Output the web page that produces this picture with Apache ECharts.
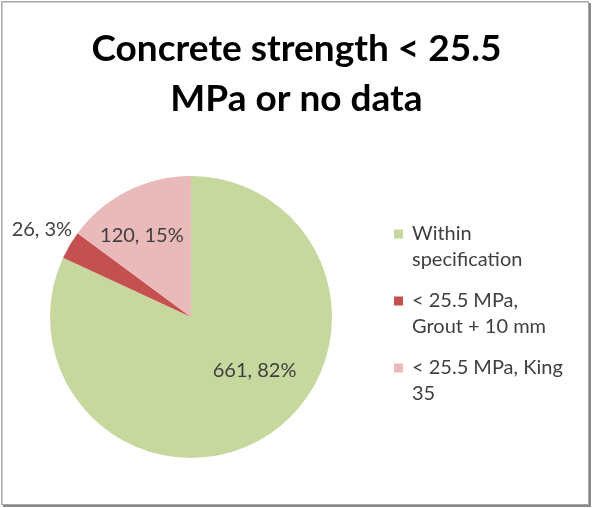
<!DOCTYPE html>
<html>
<head>
<meta charset="utf-8">
<script src="https://cdn.jsdelivr.net/npm/echarts@6/dist/echarts.min.js"></script>
<style>
  html, body { margin: 0; padding: 0; background: #fff; }
  #frame {
    position: absolute; left: 1px; top: 1px; width: 586px; height: 502px;
    border: 1px solid #a6a6a6;
    box-shadow: 2px 2px 0 #8a8a8a, inset 1px 1px 0 #d0d0d0;
    background: #fff;
  }
  #chart { position: absolute; left: 0; top: 0; width: 593px; height: 508px; }
</style>
</head>
<body>
<div id="frame"></div>
<div id="chart"></div>
<script>
// Concrete strength categories and their counts
const categories = [
  'Within specification',
  '< 25.5 MPa, Grout + 10 mm',
  '< 25.5 MPa, King 35'
];
const legendLines = [
  ['Within', 'specification'],
  ['< 25.5 MPa,', 'Grout + 10 mm'],
  ['< 25.5 MPa, King', '35']
];
const counts = [661, 26, 120];
const colors = ['#c6d89e', '#c4504f', '#eab9ba'];

const total = counts.reduce((a, b) => a + b, 0);
const fontFamily = 'Lato, "Open Sans", sans-serif';

const chart = echarts.init(document.getElementById('chart'), null, { renderer: 'canvas' });

const pieData = categories.map((name, i) => {
  const item = { name: name, value: counts[i], itemStyle: { color: colors[i] } };
  if (i === 1) {
    item.label = { position: 'outside' };
    item.labelLine = { show: false, length: 10, length2: 0 };
  }
  return item;
});

// small nudges so the labels sit where the slices read best
const labelShift = [[24, -8], [16, -10], [-16, -16]];

chart.setOption({
  backgroundColor: 'transparent',
  animation: false,
  title: {
    text: 'Concrete strength < 25.5\nMPa or no data',
    left: 'center',
    top: 19,
    textStyle: {
      fontFamily: fontFamily,
      fontWeight: 'bold',
      fontSize: 37,
      lineHeight: 50,
      color: '#000'
    }
  },
  legend: {
    orient: 'vertical',
    left: 394,
    top: 195,
    padding: 0,
    itemWidth: 9,
    itemHeight: 9,
    itemGap: -11,
    icon: 'rect',
    // an empty leading line keeps the square level with the first text line
    formatter: (name) => '\n' + legendLines[categories.indexOf(name)].map((l) => '{t|' + l + '}').join('\n'),
    textStyle: {
      fontFamily: fontFamily,
      fontSize: 20,
      lineHeight: 26,
      color: '#404040',
      rich: {
        t: {
          fontFamily: fontFamily,
          fontSize: 20,
          lineHeight: 26,
          color: '#404040',
          padding: [0, 0, 0, 4]
        }
      }
    },
    data: categories
  },
  series: [{
    type: 'pie',
    center: [191, 317],
    radius: 141,
    startAngle: 90,
    clockwise: true,
    avoidLabelOverlap: false,
    itemStyle: { borderWidth: 0 },
    label: {
      show: true,
      position: 'inside',
      fontFamily: fontFamily,
      fontSize: 20,
      color: '#404040',
      formatter: (p) => p.value + ', ' + Math.round(p.value / total * 100) + '%'
    },
    labelLayout: (params) => {
      const s = labelShift[params.dataIndex];
      return { dx: s[0], dy: s[1] };
    },
    emphasis: { disabled: true },
    data: pieData
  }]
});
</script>
</body>
</html>
